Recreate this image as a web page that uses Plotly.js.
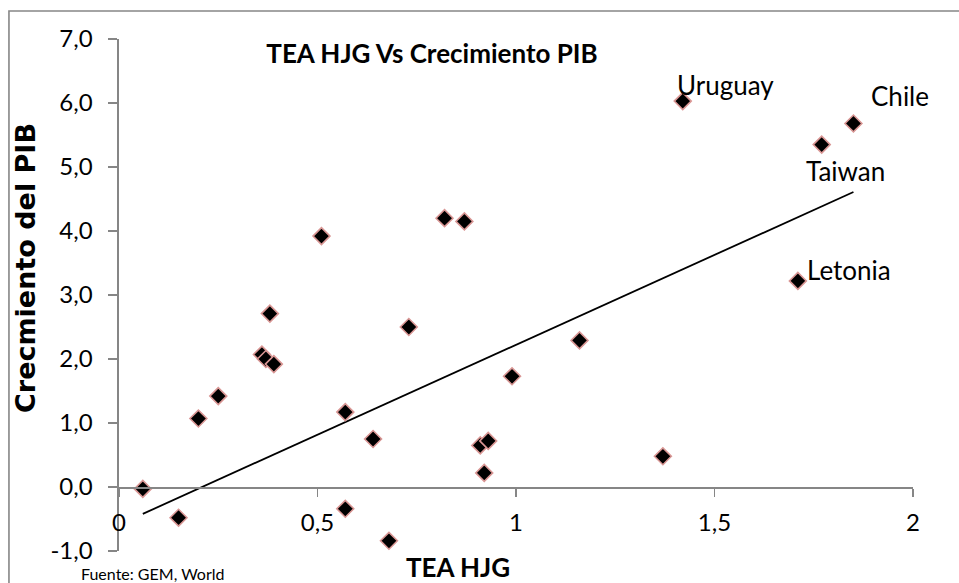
<!DOCTYPE html>
<html>
<head>
<meta charset="utf-8">
<script src="https://cdn.plot.ly/plotly-3.0.1.min.js"></script>
<style>
  html, body { margin: 0; padding: 0; background: #ffffff; }
  #chart { width: 959px; height: 583px; }
</style>
</head>
<body>
<div id="chart"></div>
<script>
// ---- Data ----
const teaHJG = [0.06, 0.15, 0.20, 0.25, 0.36, 0.37, 0.39, 0.38, 0.51, 0.57, 0.57, 0.64, 0.68, 0.73,
                0.82, 0.87, 0.91, 0.93, 0.92, 0.99, 1.16, 1.37, 1.42, 1.71, 1.77, 1.85];
const crecimientoPIB = [-0.03, -0.48, 1.07, 1.42, 2.07, 2.00, 1.92, 2.71, 3.92, 1.17, -0.34, 0.75, -0.84, 2.50,
                        4.20, 4.15, 0.65, 0.72, 0.22, 1.73, 2.29, 0.48, 6.03, 3.22, 5.35, 5.68];
const countryNames = ['', '', '', '', '', '', '', '', '', '', '', '', '', '',
                      '', '', '', '', '', '', '', '', 'Uruguay', 'Letonia', 'Taiwan', 'Chile'];
// Linear trend line (as drawn in the reference)
const trendX = [0.06, 1.85];
const trendY = [-0.42, 4.61];

const xTickVals = [0, 0.5, 1, 1.5, 2];
const xTickText = ['0', '0,5', '1', '1,5', '2'];
const yTickVals = [-1, 0, 1, 2, 3, 4, 5, 6, 7];
const yTickText = ['-1,0', '0,0', '1,0', '2,0', '3,0', '4,0', '5,0', '6,0', '7,0'];

const chartTitle = 'TEA HJG Vs Crecimiento PIB';
const xTitle = 'TEA HJG';
const yTitle = 'Crecmiento del PIB';
const sourceNote = 'Fuente: GEM, World';

// ---- Styling / placement ----
const FONT = 'Lato, "Open Sans", sans-serif';
const AXIS_GREY = '#868686';
const labelShift = {            // pixel offsets of the label text from its point
  'Uruguay': {dx: -8, dy: 16},
  'Chile':   {dx: 16, dy: 27},
  'Taiwan':  {dx: -18, dy: -26},
  'Letonia': {dx: 7, dy: 11}
};

const W = 959, H = 583;
const M = {l: 119, r: 46.3, t: 39, b: 32};
const PW = W - M.l - M.r, PH = H - M.t - M.b;
const px = v => (v - M.l) / PW;          // page x pixel -> paper fraction
const py = v => (H - M.b - v) / PH;      // page y pixel -> paper fraction

const traces = [
  {
    x: trendX, y: trendY, type: 'scatter', mode: 'lines',
    line: {color: '#000000', width: 1.8}, hoverinfo: 'skip', showlegend: false
  },
  {
    x: teaHJG, y: crecimientoPIB, type: 'scatter', mode: 'markers',
    marker: {symbol: 'diamond', size: 13, color: '#000000',
             line: {color: '#D99694', width: 1.6}},
    showlegend: false
  }
];

const annotations = [];
countryNames.forEach((name, i) => {
  if (!name) return;
  const s = labelShift[name] || {dx: 5, dy: 10};
  annotations.push({
    x: teaHJG[i], y: crecimientoPIB[i], xref: 'x', yref: 'y',
    text: name, showarrow: false, xanchor: 'left', yanchor: 'middle',
    xshift: s.dx, yshift: s.dy,
    font: {family: FONT, size: 26, color: '#000000'}
  });
});
annotations.push({
  x: px(457.5), y: py(567), xref: 'paper', yref: 'paper',
  text: '<b>' + xTitle + '</b>', showarrow: false, xanchor: 'center', yanchor: 'middle',
  font: {family: FONT, size: 26, color: '#000000'}
});
annotations.push({
  x: px(25), y: py(268), xref: 'paper', yref: 'paper',
  text: '<b>' + yTitle + '</b>', showarrow: false, textangle: -90,
  xanchor: 'center', yanchor: 'middle',
  font: {family: '"DejaVu Sans", sans-serif', size: 27, color: '#000000'}
});
annotations.push({
  x: px(79), y: py(573), xref: 'paper', yref: 'paper',
  text: sourceNote, showarrow: false, xanchor: 'left', yanchor: 'middle',
  font: {family: FONT, size: 16, color: '#000000'}
});

const layout = {
  width: W, height: H,
  margin: M,
  paper_bgcolor: '#ffffff', plot_bgcolor: '#ffffff',
  showlegend: false,
  title: {
    text: '<b>' + chartTitle + '</b>',
    xref: 'container', yref: 'container',
    x: 432 / W, y: 1 - 54 / H, xanchor: 'center', yanchor: 'middle',
    font: {family: FONT, size: 26, color: '#000000'}
  },
  xaxis: {
    range: [0, 2], tickvals: xTickVals, ticktext: xTickText,
    showgrid: false, zeroline: false,
    showline: true, linecolor: AXIS_GREY, linewidth: 1.6,
    anchor: 'free', position: 0.125,
    ticks: 'outside', ticklen: 8, tickwidth: 1.6, tickcolor: AXIS_GREY,
    ticklabelstandoff: 6,
    tickfont: {family: FONT, size: 24, color: '#000000'},
    fixedrange: true
  },
  yaxis: {
    range: [-1, 7], tickvals: yTickVals, ticktext: yTickText,
    showgrid: false, zeroline: false,
    showline: true, linecolor: AXIS_GREY, linewidth: 1.6,
    ticks: 'outside', ticklen: 9, tickwidth: 1.6, tickcolor: AXIS_GREY,
    ticklabelstandoff: 11,
    tickfont: {family: FONT, size: 24, color: '#000000'},
    fixedrange: true
  },
  shapes: [{
    type: 'rect', xref: 'paper', yref: 'paper',
    x0: px(9), x1: px(1000), y0: py(640), y1: py(11),
    line: {color: AXIS_GREY, width: 1.6}, fillcolor: 'rgba(0,0,0,0)', layer: 'below'
  }],
  annotations: annotations
};

Plotly.newPlot('chart', traces, layout, {displayModeBar: false, staticPlot: true});
</script>
</body>
</html>
